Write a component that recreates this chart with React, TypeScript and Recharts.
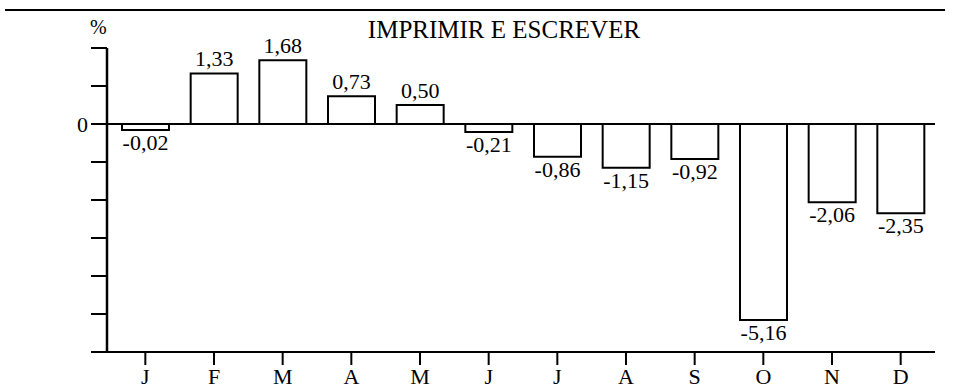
import { BarChart, Bar, XAxis, YAxis, ReferenceLine, LabelList } from 'recharts'

const months = ['J', 'F', 'M', 'A', 'M', 'J', 'J', 'A', 'S', 'O', 'N', 'D']
const changes = [-0.02, 1.33, 1.68, 0.73, 0.5, -0.21, -0.86, -1.15, -0.92, -5.16, -2.06, -2.35]
const yTicks = [-6, -5, -4, -3, -2, -1, 0, 1, 2]

const data = months.map((m, i) => ({ idx: i, month: m, value: changes[i] }))

const FONT = '"Liberation Serif", "Times New Roman", serif'

const fmt = (v: number) => v.toFixed(2).replace('.', ',')

function ValueLabel(props: any) {
  const { x, y, width, height, value } = props
  const cx = Number(x) + Number(width) / 2
  const top = Math.min(Number(y), Number(y) + Number(height))
  const bottom = Math.max(Number(y), Number(y) + Number(height))
  const neg = Number(value) < 0
  return (
    <text
      x={cx}
      y={neg ? bottom + 20 : top - 7}
      textAnchor="middle"
      fontFamily={FONT}
      fontSize={22}
      fill="#000"
    >
      {fmt(Number(value))}
    </text>
  )
}

export default function App() {
  return (
    <div style={{ position: 'absolute', left: 0, top: 0, width: 957, height: 392, background: '#fff' }}>
      <div style={{ position: 'absolute', left: 5, top: 9, width: 940, borderTop: '2px solid #000' }} />
      <div
        style={{
          position: 'absolute',
          left: 0,
          top: 16,
          width: 1008,
          textAlign: 'center',
          fontFamily: FONT,
          fontSize: 25,
          color: '#000',
        }}
      >
        IMPRIMIR E ESCREVER
      </div>
      <div style={{ position: 'absolute', left: 90, top: 16, fontFamily: FONT, fontSize: 20, color: '#000' }}>%</div>
      <BarChart
        width={957}
        height={392}
        data={data}
        margin={{ top: 48, right: 22, bottom: 0, left: 0 }}
        style={{ position: 'absolute', left: 0, top: 0 }}
      >
        <XAxis
          dataKey="idx"
          tickFormatter={(i: number) => months[i]}
          height={40}
          padding={{ left: 4, right: 0 }}
          tickSize={13}
          tickMargin={3}
          axisLine={{ stroke: '#000', strokeWidth: 2 }}
          tickLine={{ stroke: '#000', strokeWidth: 2 }}
          tick={{ fill: '#000', fontSize: 22, fontFamily: FONT }}
        />
        <YAxis
          width={107}
          domain={[-6, 2]}
          ticks={yTicks}
          interval={0}
          tickSize={16}
          tickMargin={3}
          tickFormatter={(v: number) => (v === 0 ? '0' : '')}
          axisLine={{ stroke: '#000', strokeWidth: 2.5 }}
          tickLine={{ stroke: '#000', strokeWidth: 2 }}
          tick={{ fill: '#000', fontSize: 22, fontFamily: FONT }}
        />
        <Bar
          dataKey="value"
          fill="#fff"
          stroke="#000"
          strokeWidth={2}
          barSize={47}
          minPointSize={6}
          isAnimationActive={false}
        >
          <LabelList dataKey="value" content={<ValueLabel />} />
        </Bar>
        <ReferenceLine y={0} stroke="#000" strokeWidth={2} />
      </BarChart>
    </div>
  )
}
